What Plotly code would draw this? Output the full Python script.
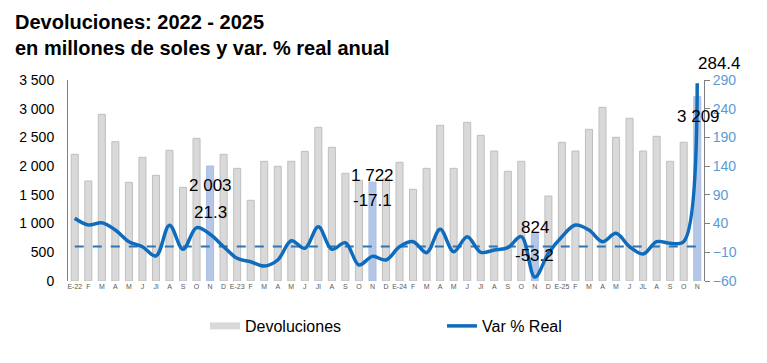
import plotly.graph_objects as go

months = ["E-22","F","M","A","M","J","Jl","A","S","O","N","D",
          "E-23","F","M","A","M","J","Jl","A","S","O","N","D",
          "E-24","F","M","A","M","J","Jl","A","S","O","N","D",
          "E-25","F","M","A","M","J","JL","A","S","O","N"]

devoluciones = [2206, 1741, 2902, 2426, 1718, 2153, 1840, 2275, 1631, 2484, 2003, 2206,
                1962, 1405, 2084, 1997, 2084, 2258, 2676, 2328, 1875, 1753, 1722, 1776,
                2067, 1597, 1962, 2711, 1962, 2763, 2537, 2263, 1910, 2084, 824, 1480,
                2415, 2263, 2641, 3024, 2502, 2833, 2263, 2519, 2084, 2415, 3209]

var_real = [49.2, 37.5, 41.5, 28.8, 8.5, -0.3, -16.5, 37.0, -4.8, 32.8, 21.3, -0.3,
            -20.5, -26.4, -33.9, -23.4, 10.2, -3.1, 34.5, -4.8, 6.7, -32.1, -17.1, -23.4,
            -0.3, 8.5, -10.7, 30.0, -9.0, 17.2, -10.0, -6.0, -2.0, 17.2, -53.2, -11.8,
            17.2, 37.5, 28.8, 8.5, 23.0, -0.3, -13.0, 8.5, 5.6, 8.5, 284.4]

highlight = [10, 22, 34, 46]

left_ticks = [0, 500, 1000, 1500, 2000, 2500, 3000, 3500]
left_labels = ["0", "500", "1 000", "1 500", "2 000", "2 500", "3 000", "3 500"]
right_ticks = [-60, -10, 40, 90, 140, 190, 240, 290]

x = list(range(len(months)))
bar_colors = ["#B4C7E7" if i in highlight else "#D9D9D9" for i in x]
bar_lines = ["#A9BDE0" if i in highlight else "#BFBFBF" for i in x]

fig = go.Figure()
fig.add_trace(go.Bar(x=x, y=devoluciones, name="Devoluciones", width=0.52,
                     marker=dict(color=bar_colors, line=dict(color=bar_lines, width=1)),
                     yaxis="y", showlegend=False))
# legend proxy for the bars (wide flat swatch like the original)
fig.add_trace(go.Scatter(x=[None], y=[None], mode="lines", name="Devoluciones",
                         line=dict(color="#D9D9D9", width=7), yaxis="y"))
fig.add_trace(go.Scatter(x=x, y=[0]*len(x), mode="lines", yaxis="y2", showlegend=False,
                         line=dict(color="#2E75B6", width=2, dash="dash"), hoverinfo="skip"))
fig.add_trace(go.Scatter(x=x, y=var_real, mode="lines", name="Var % Real", yaxis="y2",
                         line=dict(color="#0F6CBD", width=3.5, shape="spline", smoothing=1.0)))

def fmt(v):
    return f"{v:,}".replace(",", " ")

annos = []
bar_shifts = {10: (0, -20), 22: (0, 7), 34: (0, 6), 46: (1, -20)}
for i, (dx, dy) in bar_shifts.items():
    annos.append(dict(x=i, y=devoluciones[i], xref="x", yref="y", text=fmt(devoluciones[i]),
                      showarrow=False, xshift=dx, yshift=dy,
                      font=dict(family="Arial", size=17, color="#000000")))
line_shifts = {10: (0, 22), 22: (0, 56), 34: (0, 22), 46: (22, 20)}
for i, (dx, dy) in line_shifts.items():
    annos.append(dict(x=i, y=var_real[i], xref="x", yref="y2", text=f"{var_real[i]:.1f}",
                      showarrow=False, xshift=dx, yshift=dy,
                      font=dict(family="Arial", size=17, color="#000000")))

fig.update_layout(
    width=767, height=363,
    margin=dict(l=68, r=63, t=80, b=82, autoexpand=False),
    paper_bgcolor="white", plot_bgcolor="white",
    title=dict(text="<b>Devoluciones: 2022 - 2025<br>en millones de soles y var. % real anual</b>",
               x=15/767, xanchor="left", y=1 - 29/363, yanchor="middle",
               font=dict(family="Arial", size=20, color="#000000")),
    xaxis=dict(range=[-0.5, 46.5], tickmode="array", tickvals=x, ticktext=months,
               tickfont=dict(family="Arial", size=7, color="#595959"),
               showgrid=False, zeroline=False, showline=False, ticks=""),
    yaxis=dict(range=[0, 3500], tickmode="array", tickvals=left_ticks, ticktext=left_labels,
               tickfont=dict(family="Arial", size=14, color="#000000"),
               showgrid=False, zeroline=False, showline=True, linecolor="#7F7F7F",
               linewidth=1, ticks="", ticklabelstandoff=10),
    yaxis2=dict(range=[-60, 290], overlaying="y", side="right", tickmode="array",
                tickvals=right_ticks,
                tickfont=dict(family="Arial", size=14, color="#5B9BD5"),
                showgrid=False, zeroline=False, showline=True, linecolor="#7F7F7F",
                linewidth=1, ticks="outside", ticklen=5, tickcolor="#7F7F7F"),
    legend=dict(orientation="h", xref="container", yref="container",
                x=205/767, y=1 - 326/363, xanchor="left", yanchor="middle",
                font=dict(family="Arial", size=16, color="#000000"),
                entrywidth=192, entrywidthmode="pixels"),
    annotations=annos,
    showlegend=True,
)

fig.write_html("out.html", config={"displayModeBar": False},
               post_script="document.body.style.margin='0px';")
